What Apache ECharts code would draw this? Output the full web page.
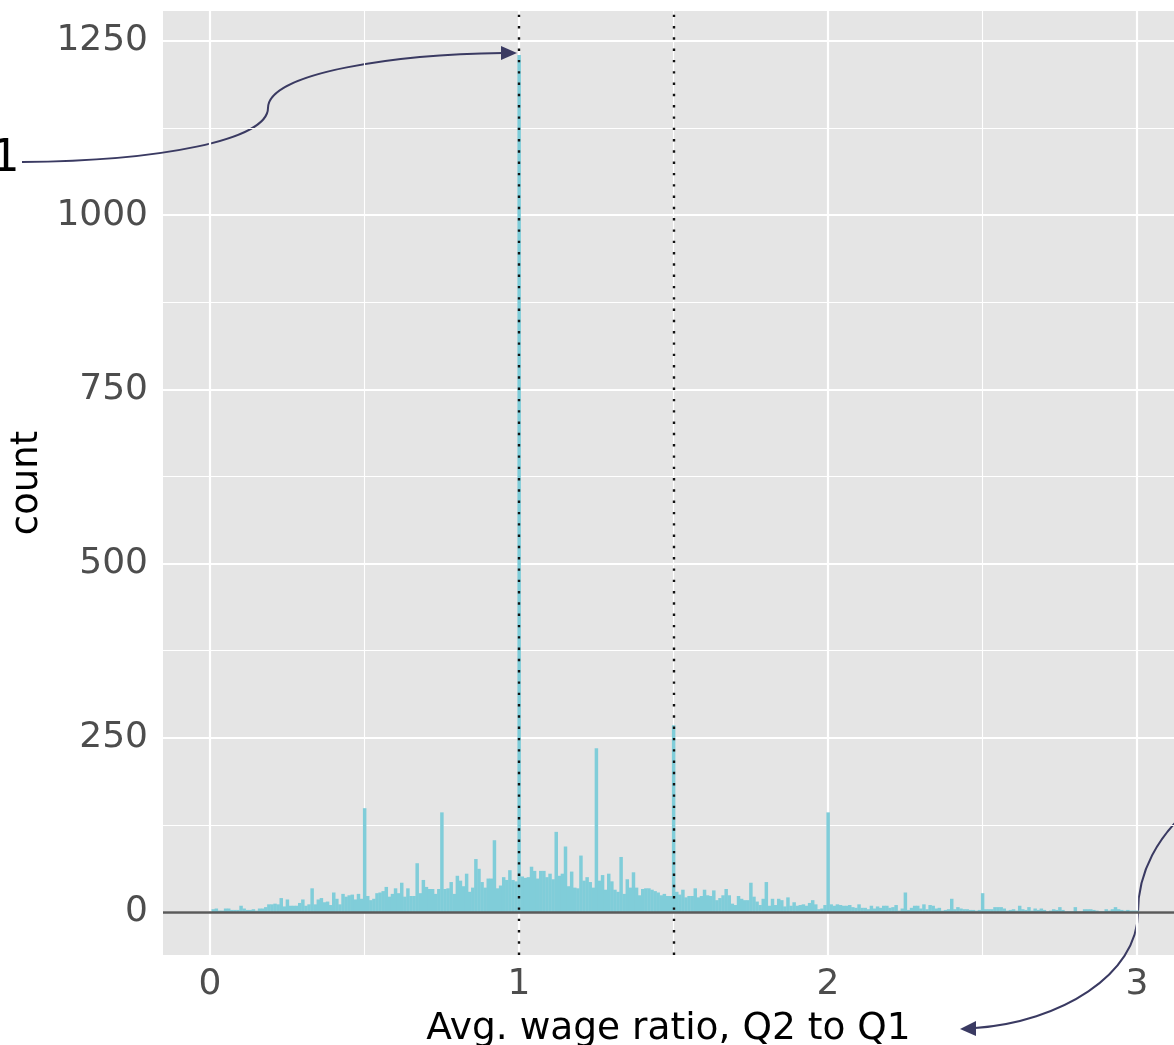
<!DOCTYPE html>
<html lang="en">
<head>
    <meta charset="UTF-8">
    <title>Avg. wage ratio, Q2 to Q1</title>
    <script src="https://cdn.jsdelivr.net/npm/echarts@6/dist/echarts.min.js"></script>
    <style>
        html, body { margin: 0; padding: 0; background: #fff; }
        #chart { width: 1174px; height: 1045px; }
    </style>
</head>
<body>
    <div id="chart"></div>
    <script>
        // histogram bins: width 0.01, first bin centred on 0
        var binStart = 0;
        var binWidth = 0.01;
        var counts = [
            0, 4, 5, 2, 2, 5, 5, 3, 3, 3, 9, 5, 3, 3, 4, 2, 5, 5, 7, 11,
            11, 12, 11, 20, 8, 18, 9, 9, 9, 13, 18, 9, 11, 34, 11, 18, 20, 14, 15, 10,
            28, 19, 11, 26, 22, 24, 25, 18, 26, 19,
            149, 23, 17, 19, 27, 28, 30, 36, 22, 26, 34, 27, 42, 22, 34, 23, 23, 70, 27, 46,
            36, 33, 33, 26, 33, 143, 33, 34, 43, 26, 52, 45, 37, 55, 29, 35, 76, 62, 43, 35,
            48, 48, 103, 34, 38, 50, 46, 60, 46, 44,
            1230, 51, 49, 50, 65, 59, 48, 59, 59, 50, 55, 47, 115, 52, 55, 94, 37, 58, 35, 34,
            81, 45, 50, 43, 35, 235, 45, 53, 32, 55, 44, 32, 29, 79, 26, 47, 35, 57, 35, 24,
            33, 34, 34, 32, 30, 28, 24, 26, 23, 23,
            268, 29, 25, 32, 21, 23, 23, 34, 21, 23, 32, 24, 23, 31, 17, 20, 24, 33, 24, 12,
            10, 23, 19, 17, 17, 42, 22, 15, 10, 19, 43, 9, 19, 10, 19, 17, 8, 21, 9, 14,
            9, 10, 11, 9, 13, 17, 11, 4, 5, 10,
            143, 11, 9, 11, 10, 9, 9, 10, 7, 6, 11, 6, 6, 4, 9, 5, 8, 6, 9, 9,
            6, 7, 10, 2, 5, 28, 3, 6, 9, 9, 5, 11, 4, 10, 9, 5, 6, 2, 3, 4,
            19, 4, 7, 5, 4, 4, 3, 3, 2, 3,
            27, 4, 4, 4, 7, 7, 7, 5, 2, 3, 4, 2, 9, 4, 3, 7, 2, 5, 3, 5,
            3, 1, 2, 4, 3, 7, 3, 1, 1, 1, 7, 1, 1, 4, 4, 4, 3, 2, 1, 1,
            4, 2, 4, 7, 4, 3, 2, 3, 2, 2, 2
        ];
        var xTicks = [0, 1, 2, 3];
        var xMinor = [0.5, 1.5, 2.5];
        var yTicks = [0, 250, 500, 750, 1000, 1250];
        var yMinor = [125, 375, 625, 875, 1125];
        var refLines = [1, 1.5];

        var font = 'DejaVu Sans';
        var barColor = '#80cdd9';
        var arrowColor = '#3a3a62';

        var histData = counts.map(function (c, i) {
            return [+(binStart + i * binWidth).toFixed(2), c];
        });

        function gridLines() {
            var d = [];
            xTicks.forEach(function (v) { d.push({ xAxis: v, lineStyle: { width: 2.2 } }); });
            xMinor.forEach(function (v) { d.push({ xAxis: v, lineStyle: { width: 1.1 } }); });
            yTicks.forEach(function (v) { d.push({ yAxis: v, lineStyle: { width: 2.2 } }); });
            yMinor.forEach(function (v) { d.push({ yAxis: v, lineStyle: { width: 1.1 } }); });
            return d;
        }

        function plain(v) { return String(v); }

        var chart = echarts.init(document.getElementById('chart'));
        var option = {
            animation: false,
            grid: {
                left: 163, right: 0, top: 11, bottom: 90,
                outerBoundsMode: 'none', containLabel: false,
                show: true, backgroundColor: '#e5e5e5', borderWidth: 0
            },
            xAxis: {
                type: 'value', min: -0.152, max: 3.12,
                axisLine: { show: false },
                splitLine: { show: false },
                axisTick: { show: true, customValues: xTicks, length: 7, lineStyle: { color: '#333', width: 2 } },
                axisLabel: { customValues: xTicks, formatter: plain, fontSize: 36, color: '#4d4d4d', margin: 12, fontFamily: font },
                name: 'Avg. wage ratio, Q2 to Q1',
                nameLocation: 'middle', nameGap: 55,
                nameTextStyle: { fontSize: 37.5, color: '#000', fontFamily: font }
            },
            yAxis: {
                type: 'value', min: -61.7, max: 1293,
                axisLine: { show: false },
                splitLine: { show: false },
                axisTick: { show: true, customValues: yTicks, length: 7, lineStyle: { color: '#333', width: 2 } },
                axisLabel: { customValues: yTicks, formatter: plain, fontSize: 36, color: '#4d4d4d', margin: 15, padding: [9, 0, 0, 0], fontFamily: font },
                name: 'count',
                nameLocation: 'middle', nameGap: 113,
                nameTextStyle: { fontSize: 37, color: '#000', fontFamily: font }
            },
            series: [
                {
                    // panel grid lines
                    type: 'line', data: [], z: 1, silent: true,
                    markLine: {
                        z: 1, silent: true, symbol: 'none', animation: false,
                        label: { show: false },
                        lineStyle: { color: '#ffffff', type: 'solid' },
                        data: gridLines()
                    }
                },
                {
                    type: 'custom', z: 2, clip: true, silent: true,
                    data: histData,
                    renderItem: function (params, api) {
                        var x = api.value(0), c = api.value(1);
                        var p0 = api.coord([x - binWidth / 2, c]);
                        var p1 = api.coord([x + binWidth / 2, 0]);
                        return {
                            type: 'rect',
                            shape: { x: p0[0], y: p0[1], width: p1[0] - p0[0] + 0.4, height: p1[1] - p0[1] },
                            style: { fill: barColor }
                        };
                    }
                },
                {
                    // zero line and reference lines
                    type: 'line', data: [], z: 3, silent: true,
                    markLine: {
                        z: 6, silent: true, symbol: 'none', animation: false,
                        label: { show: false },
                        data: [
                            { yAxis: 0, lineStyle: { color: '#5a5a5a', width: 2.5, type: 'solid' } }
                        ].concat(refLines.map(function (v) {
                            return { xAxis: v, lineStyle: { color: '#111', width: 2.4, type: [2.4, 8.9] } };
                        }))
                    }
                }
            ],
            graphic: [
                {
                    type: 'text', left: -9, top: 137,
                    style: { text: '1', font: '45px "DejaVu Sans"', fill: '#000' }
                },
                {
                    type: 'group',
                    children: [
                        {
                            type: 'bezierCurve',
                            shape: { x1: 22, y1: 162, cpx1: 160, cpy1: 161, cpx2: 268, cpy2: 140, x2: 268, y2: 108 },
                            style: { stroke: arrowColor, lineWidth: 2, fill: null }
                        },
                        {
                            type: 'bezierCurve',
                            shape: { x1: 268, y1: 108, cpx1: 268, cpy1: 72, cpx2: 400, cpy2: 54, x2: 503, y2: 53 },
                            style: { stroke: arrowColor, lineWidth: 2, fill: null }
                        },
                        {
                            type: 'polygon',
                            shape: { points: [[517, 53], [501, 46], [501, 60]] },
                            style: { fill: arrowColor }
                        },
                        {
                            type: 'bezierCurve',
                            shape: { x1: 1200, y1: 800, cpx1: 1155, cpy1: 835, cpx2: 1138, cpy2: 875, x2: 1138, y2: 912 },
                            style: { stroke: arrowColor, lineWidth: 2, fill: null }
                        },
                        {
                            type: 'bezierCurve',
                            shape: { x1: 1138, y1: 912, cpx1: 1138, cpy1: 975, cpx2: 1060, cpy2: 1022, x2: 975, y2: 1028 },
                            style: { stroke: arrowColor, lineWidth: 2, fill: null }
                        },
                        {
                            type: 'polygon',
                            shape: { points: [[960, 1029], [976, 1021], [976, 1036]] },
                            style: { fill: arrowColor }
                        }
                    ]
                }
            ]
        };
        chart.setOption(option);
    </script>
</body>
</html>
